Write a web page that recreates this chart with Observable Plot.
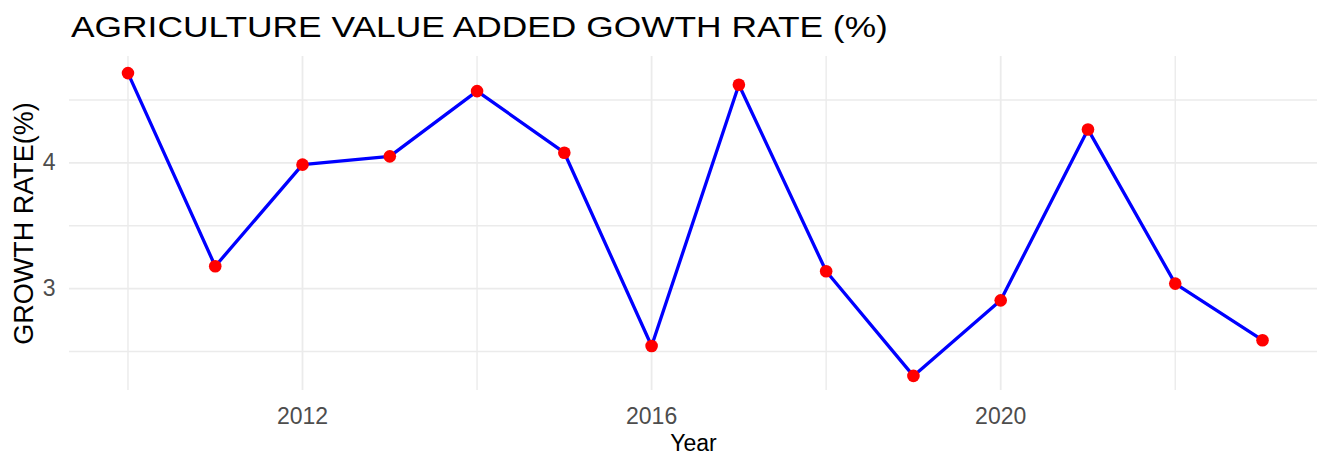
<!DOCTYPE html>
<html><head><meta charset="utf-8">
<script src="https://cdn.jsdelivr.net/npm/d3@7"></script>
<script src="https://cdn.jsdelivr.net/npm/@observablehq/plot@0.6"></script>
<style>
body{margin:0;background:#fff;}
#title{height:50px;position:relative;overflow:hidden;width:1319px}
#title span{position:absolute;left:71px;top:1.5px;font-family:"Liberation Sans",Arial,sans-serif;font-size:30px;line-height:50px;transform:scaleX(1.178);transform-origin:left center;white-space:nowrap;color:#000}
</style></head><body>
<div id="title"><span>AGRICULTURE VALUE ADDED GOWTH RATE (%)</span></div>
<div id="chart"></div>
<script>
const years = [2010, 2011, 2012, 2013, 2014, 2015, 2016, 2017, 2018, 2019, 2020, 2021, 2022, 2023];
const growth = [4.714, 3.178, 3.986, 4.052, 4.571, 4.081, 2.544, 4.621, 3.138, 2.306, 2.907, 4.266, 3.040, 2.590];
const xMajorTicks = [2012, 2016, 2020];
const xMinorTicks = [2010, 2014, 2018, 2022];
const yMajorTicks = [3, 4];
const yMinorTicks = [2.5, 3.5, 4.5];
const xTitle = "Year";
const yTitle = "GROWTH RATE(%)";

const data = years.map((year, i) => ({year, growth: growth[i]}));

const plot = Plot.plot({
  width: 1319, height: 406,
  marginTop: 6, marginBottom: 66, marginLeft: 69, marginRight: 2,
  style: {fontFamily: '"Liberation Sans", Arial, sans-serif', background: "#fff", overflow: "visible"},
  x: {domain: [2009.33, 2023.63]},
  y: {domain: [2.19, 4.846]},
  marks: [
    Plot.ruleX(xMinorTicks, {stroke: "#ebebeb", strokeWidth: 1.4}),
    Plot.ruleX(xMajorTicks, {stroke: "#ebebeb", strokeWidth: 1.8}),
    Plot.ruleY(yMinorTicks, {stroke: "#ebebeb", strokeWidth: 1.4}),
    Plot.ruleY(yMajorTicks, {stroke: "#ebebeb", strokeWidth: 1.8}),
    Plot.axisX({ticks: xMajorTicks, tickSize: 0, tickPadding: 17, tickFormat: d => String(d), fontSize: 23, color: "#4d4d4d", label: null}),
    Plot.axisY({ticks: yMajorTicks, tickSize: 0, tickPadding: 14, tickFormat: d => String(d), fontSize: 23, color: "#4d4d4d", label: null}),
    Plot.text([xTitle], {frameAnchor: "bottom", textAnchor: "middle", lineAnchor: "middle", dy: 53.5, fontSize: 23, fill: "#000"}),
    Plot.text([yTitle], {frameAnchor: "left", textAnchor: "middle", lineAnchor: "middle", rotate: -90, dx: -45.6, fontSize: 27, fill: "#000"}),
    Plot.line(data, {x: "year", y: "growth", stroke: "#0000ff", strokeWidth: 3.3}),
    Plot.dot(data, {x: "year", y: "growth", fill: "#ff0000", stroke: "none", r: 6.3})
  ]
});
plot.style.display = "block";
document.getElementById("chart").appendChild(plot);
</script>
</body></html>
